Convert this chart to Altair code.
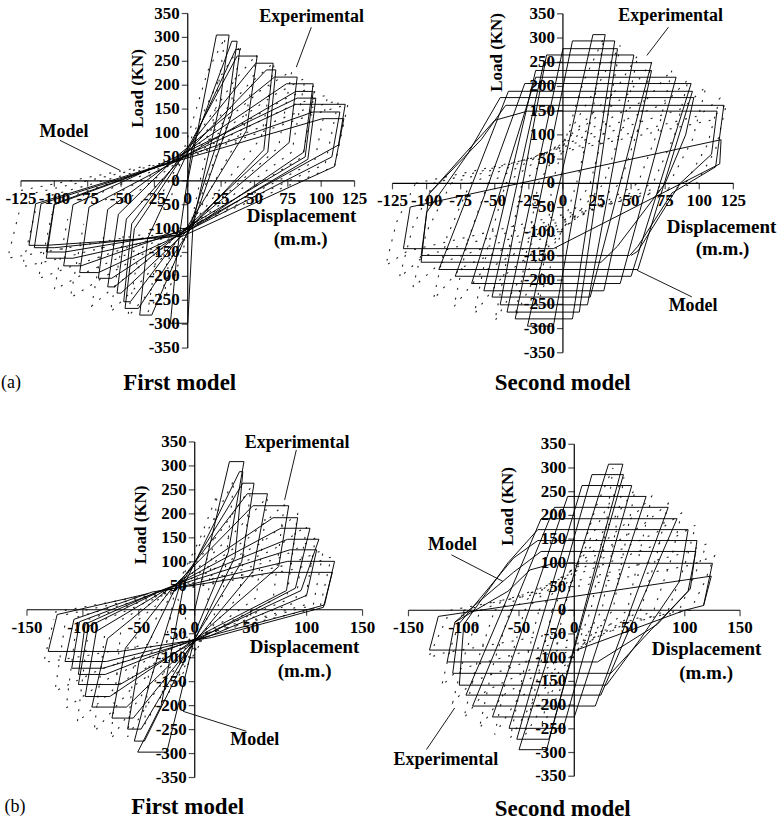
import altair as alt
import pandas as pd

SERIF = "Liberation Serif"

# ---------------------------------------------------------------- axes
TICKS_125 = [-125, -100, -75, -50, -25, 0, 25, 50, 75, 100, 125]
TICKS_150 = [-150, -100, -50, 0, 50, 100, 150]
LOAD_TICKS = [-350, -300, -250, -200, -150, -100, -50, 0, 50, 100, 150, 200, 250, 300, 350]

# ------------------------------------------------ (a) first model (pinched)
# (peak load, plateau start, plateau end) for each positive excursion
A1_TOP = [(305, 21.5, 31), (292, 33, 37), (275, 36, 39), (261, 37, 52), (246, 51, 64),
          (232, 59, 66), (217, 65, 82), (203, 74, 94), (187, 81, 94), (173, 82, 96),
          (160, 81, 118), (144, 94, 114), (130, 101, 117)]
A1_POS_UNLOAD = [(24, 160), (30, 150), (33, 140), (44, 105), (57, 65), (60, 60), (76, 80),
                 (87, 60), (88, 50), (90, 45), (113, 75), (108, 50), (110, 30)]
# (peak load, plateau start, plateau end) for each negative excursion
A1_BOT = [(-298, 0, -13), (-281, -27, -36), (-267, -37, -47), (-253, -43, -48), (-235, -50, -53),
          (-222, -55, -60), (-204, -57, -67), (-192, -67, -81), (-178, -80, -93), (-162, -86, -106),
          (-149, -92, -106), (-140, -100, -115), (-135, -106, -119)]
A1_NEG_UNLOAD = [(-8, -150), (-30, -120), (-40, -100), (-42, -90), (-46, -80), (-52, -70), (-60, -60),
                 (-74, -55), (-86, -50), (-100, -50), (-100, -48), (-110, -48), (-114, -48)]
# crossing points of the reloading branches
A1_PINCH_POS = [(3, 66), (0, 60), (-1, 63), (-4, 56), (-3, 52), (-7, 54), (-8, 48), (-6, 45),
                (-11, 47), (-10, 42), (-13, 40), (-12, 38), (-15, 37)]
A1_PINCH_NEG = [(4, -88), (2, -93), (3, -97), (0, -95), (1, -101), (-1, -99), (-2, -104), (-1, -107),
                (-4, -103), (-3, -110), (-5, -108), (-6, -113), (-4, -116)]
A1_EXP = [
    [(-12, -30), (-5, 45), (15, 230), (28, 300), (20, 140), (2, -95), (-10, -200), (-18, -250), (-12, -120)],
    [(-22, -40), (-5, 45), (25, 220), (40, 285), (30, 120), (2, -95), (-18, -220), (-30, -275), (-22, -130)],
    [(-35, -45), (-5, 45), (35, 210), (52, 265), (42, 110), (2, -95), (-28, -230), (-45, -285), (-35, -120)],
    [(-48, -45), (-5, 45), (45, 200), (65, 248), (55, 90), (2, -95), (-38, -220), (-58, -275), (-48, -110)],
    [(-62, -40), (-5, 45), (55, 190), (78, 230), (68, 70), (2, -95), (-50, -210), (-72, -262), (-62, -100)],
    [(-78, -40), (-5, 45), (65, 180), (88, 215), (78, 60), (2, -95), (-62, -200), (-88, -245), (-78, -90)],
    [(-90, -35), (-5, 45), (72, 170), (96, 200), (86, 50), (2, -95), (-75, -190), (-100, -228), (-90, -80)],
    [(-102, -30), (-5, 45), (80, 160), (105, 180), (95, 40), (2, -95), (-88, -180), (-112, -205), (-102, -70)],
    [(-114, -25), (-5, 45), (88, 150), (113, 168), (103, 35), (2, -95), (-100, -165), (-124, -180), (-114, -60)],
    [(-125, -20), (-5, 45), (95, 140), (120, 160), (110, 30), (2, -95), (-110, -150), (-135, -162), (-125, -50)],
]

# ---------------------------------------------- (a) second model (wide loops)
# (load, left end, right end) of the upper and lower plateaus
A2_TOP = [(307, 22, 31), (294, 7, 38), (278, 0, 40), (265, -12, 52), (249, -14, 65),
          (233, -20, 65), (219, -20, 83), (206, -28, 94), (190, -40, 95)]
A2_BOT = [(-295, -26, -7), (-280, -35, 7), (-266, -41, 12), (-251, -46, 18), (-235, -52, 20),
          (-222, -58, 30), (-207, -67, 42), (-192, -79, 50), (-178, -91, 55)]
A2_LATE = [
    [(-104, -163), (-100, -60), (-70, 60), (-46, 177), (96, 177), (90, 100), (75, 0), (40, -130), (28, -163), (-104, -163)],
    [(-104, -149), (-98, -21), (-60, 90), (-42, 161), (118, 161), (112, 34), (80, -20), (55, -130), (49, -149), (-104, -149)],
    [(-98, -21), (-50, 130), (-26, 149), (113, 149), (109, 60), (86, 0), (55, -140), (50, -149)],
    [(-117, -135), (-112, -49), (116, 90), (115, 40), (-7, -135), (-117, -135)],
]
A2_EXP = [
    [(-8, 0), (15, 210), (30, 300), (22, 150), (10, 0), (-10, -180), (-20, -260), (-12, -130), (-8, 0)],
    [(-18, 0), (25, 200), (42, 285), (33, 140), (20, 0), (-20, -190), (-35, -275), (-26, -130), (-18, 0)],
    [(-30, 0), (38, 190), (55, 265), (45, 130), (30, 0), (-32, -200), (-50, -285), (-40, -140), (-30, 0)],
    [(-42, 0), (48, 185), (65, 250), (56, 120), (42, 0), (-45, -195), (-65, -270), (-55, -130), (-42, 0)],
    [(-55, 0), (62, 175), (80, 235), (70, 110), (55, 0), (-60, -185), (-80, -255), (-70, -120), (-55, 0)],
    [(-68, 0), (75, 165), (92, 215), (82, 100), (66, 0), (-75, -175), (-95, -240), (-85, -110), (-68, 0)],
    [(-82, 0), (88, 155), (105, 200), (95, 90), (78, 0), (-90, -165), (-110, -215), (-100, -100), (-82, 0)],
    [(-95, 0), (100, 140), (115, 175), (106, 80), (90, 0), (-102, -150), (-120, -195), (-110, -90), (-95, 0)],
    [(-108, 0), (108, 130), (120, 165), (112, 70), (98, 0), (-114, -140), (-130, -170), (-122, -80), (-108, 0)],
]

# ------------------------------------------------ (b) first model (pinched)
B1_TOP = [(309, 31, 44), (288, 40, 43), (264, 43, 53), (242, 47, 65), (217, 52, 84), (192, 70, 92),
          (170, 77, 103), (147, 83, 111), (125, 85, 109), (101, 83, 125), (78, 70, 123)]
B1_POS_UNLOAD = [(30, 120), (36, 110), (42, 100), (52, 80), (75, 90), (82, 40), (90, 45), (95, 40),
                 (100, 30), (116, 10), (115, 5)]
B1_BOT = [(-297, -25, -51), (-274, -45, -54), (-249, -48, -60), (-226, -55, -74), (-203, -61, -92),
          (-181, -76, -98), (-156, -67, -104), (-135, -80, -104), (-122, -82, -110), (-108, -79, -116),
          (-87, -67, -131)]
B1_NEG_UNLOAD = [(-30, -200), (-40, -150), (-50, -110), (-62, -80), (-78, -60), (-88, -45), (-95, -35),
                 (-98, -30), (-103, -25), (-108, -20), (-123, -10)]
B1_PINCH_POS = [(-10, 50), (-14, 46), (-17, 47), (-21, 43), (-23, 44), (-27, 40), (-29, 41),
                (-33, 38), (-34, 36), (-38, 37), (-41, 34)]
B1_PINCH_NEG = [(2, -38), (4, -43), (5, -41), (7, -47), (6, -50), (9, -48), (10, -53),
                (11, -51), (12, -56), (14, -54), (15, -58)]
B1_EXP = [
    [(-8, -20), (-18, 40), (5, 150), (20, 240), (12, 30), (10, -50), (-5, -110), (-15, -150), (-10, -40)],
    [(-22, -20), (-18, 40), (15, 180), (35, 270), (25, 30), (10, -50), (-15, -140), (-30, -200), (-24, -40)],
    [(-35, -20), (-18, 40), (25, 170), (50, 255), (40, 30), (10, -50), (-25, -160), (-45, -240), (-38, -40)],
    [(-50, -20), (-18, 40), (35, 160), (65, 235), (55, 25), (10, -50), (-35, -170), (-60, -265), (-52, -40)],
    [(-65, -20), (-18, 40), (48, 150), (80, 220), (70, 20), (10, -50), (-45, -170), (-75, -270), (-66, -40)],
    [(-80, -20), (-18, 40), (60, 140), (92, 200), (82, 20), (10, -50), (-55, -160), (-90, -255), (-80, -40)],
    [(-95, -20), (-18, 40), (70, 125), (100, 175), (90, 15), (10, -50), (-65, -150), (-105, -235), (-95, -40)],
    [(-105, -15), (-18, 40), (78, 110), (108, 150), (98, 10), (10, -50), (-75, -140), (-115, -205), (-106, -35)],
    [(-115, -10), (-18, 40), (85, 95), (115, 125), (106, 10), (10, -50), (-85, -125), (-125, -170), (-116, -30)],
    [(-125, -5), (-18, 40), (90, 85), (122, 110), (112, 5), (10, -50), (-95, -95), (-135, -110), (-126, -20)],
]

# ---------------------------------------------- (b) second model (wide loops)
B2_TOP = [(308, 31, 44), (286, 16, 44.5), (263, 7, 52), (240, -6, 65), (217, -18, 85), (193, -30, 93)]
B2_BOT = [(-294, -50, -25), (-272, -52, -23), (-249, -59, -10), (-225, -74, 0), (-202, -92, 19), (-179, -98, 24)]
B2_LATE = [
    [(-104, -158), (-100, -30), (-60, 100), (-33, 170), (103, 170), (95, 60), (60, -60), (29, -158), (-104, -158)],
    [(-110, -133), (-104, -28), (-55, 110), (-33, 147), (111, 147), (105, 45), (70, -40), (33, -133), (-110, -133)],
    [(-115, -109), (-108, -25), (-55, 80), (-30, 124), (110, 124), (103, 40), (75, -30), (21, -109), (-115, -109)],
    [(-108, -25), (-60, 40), (-40, 85), (-18, 99), (125, 99), (117, 10)],
    [(-131, -84), (-123, -13), (124, 72), (117, 10), (100, 0), (2, -84), (-131, -84)],
]
B2_EXP = [
    [(-10, 0), (20, 220), (35, 300), (28, 160), (15, 0), (-15, -180), (-30, -250), (-20, -130), (-10, 0)],
    [(-20, 0), (28, 210), (45, 280), (36, 150), (25, 0), (-25, -190), (-45, -265), (-32, -130), (-20, 0)],
    [(-32, 0), (38, 200), (55, 255), (46, 140), (35, 0), (-38, -195), (-58, -270), (-46, -130), (-32, 0)],
    [(-45, 0), (50, 190), (70, 240), (60, 130), (48, 0), (-52, -190), (-72, -262), (-60, -125), (-45, 0)],
    [(-58, 0), (62, 180), (85, 225), (75, 120), (60, 0), (-65, -180), (-86, -250), (-74, -120), (-58, 0)],
    [(-72, 0), (75, 165), (97, 205), (88, 110), (72, 0), (-80, -170), (-100, -228), (-88, -110), (-72, 0)],
    [(-85, 0), (88, 150), (110, 180), (100, 95), (85, 0), (-92, -150), (-110, -195), (-100, -100), (-85, 0)],
    [(-100, 0), (98, 120), (120, 140), (110, 80), (95, 0), (-105, -125), (-120, -160), (-112, -80), (-100, 0)],
    [(-112, 0), (105, 95), (127, 115), (118, 60), (105, 0), (-118, -90), (-132, -100), (-124, -60), (-112, 0)],
]


def pinched_cycles(top, pos_unload, bot, neg_unload, pin_pos, pin_neg):
    """One continuous load path through the listed peaks and pinch points."""
    pts = [(0, 0)]
    for (p, xa, xb), c, hn, (n, xd, xe), f, gp in zip(top, pos_unload, pin_neg, bot, neg_unload, pin_pos):
        pts += [(xa, p), (xb, p), c, hn, (xd, n), (xe, n), f, gp]
    return [pts]


def wide_loops(top, bot):
    """Closed loops joining the corners of each upper and lower plateau."""
    return [[(bl, n), (tl, p), (tr, p), (br, n), (bl, n)]
            for (p, tl, tr), (n, bl, br) in zip(top, bot)]


def path_frame(paths):
    rows = []
    for i, pts in enumerate(paths):
        for k, (x, y) in enumerate(pts):
            rows.append({"x": x, "y": y, "loop": i, "k": k})
    return pd.DataFrame(rows)


def note(text, px, py, size, bold=True, angle=0):
    return alt.Chart(pd.DataFrame({"t": [text]})).mark_text(
        font=SERIF, fontSize=size, fontWeight="bold" if bold else "normal",
        angle=angle, align="center", baseline="middle", color="black"
    ).encode(x=alt.value(px), y=alt.value(py), text="t:N")


def leader(x1, y1, x2, y2):
    return alt.Chart(pd.DataFrame({"t": [0]})).mark_rule(color="black", strokeWidth=0.9).encode(
        x=alt.value(x1), y=alt.value(y1), x2=alt.value(x2), y2=alt.value(y2))


def panel(model, exp, xticks, xr, yr, w, h, notes, leaders):
    xs = alt.Scale(domain=[xticks[0], xticks[-1]], range=xr, nice=False, zero=False)
    ys = alt.Scale(domain=[LOAD_TICKS[0], LOAD_TICKS[-1]], range=yr, nice=False, zero=False)

    def X(f):
        return alt.X(f, type="quantitative", scale=xs, axis=None)

    def Y(f):
        return alt.Y(f, type="quantitative", scale=ys, axis=None)

    exp_layer = alt.Chart(path_frame(exp)).mark_line(
        color="#222222", strokeWidth=1.1, strokeDash=[2, 8]
    ).encode(x=X("x"), y=Y("y"), detail="loop:N", order="k:Q")
    model_layer = alt.Chart(path_frame(model)).mark_line(
        color="black", strokeWidth=0.95
    ).encode(x=X("x"), y=Y("y"), detail="loop:N", order="k:Q")

    frame = pd.DataFrame({"x": [xticks[0]], "x1": [xticks[-1]],
                          "y": [LOAD_TICKS[0]], "y1": [LOAD_TICKS[-1]], "o": [0]})
    hline = alt.Chart(frame).mark_rule(color="black", strokeWidth=1.2).encode(
        x=X("x"), x2="x1:Q", y=Y("o"))
    vline = alt.Chart(frame).mark_rule(color="black", strokeWidth=1.2).encode(
        x=X("o"), y=Y("y"), y2="y1:Q")

    xt = pd.DataFrame({"v": xticks, "t": [str(v) for v in xticks], "o": 0})
    yt = pd.DataFrame({"v": LOAD_TICKS, "t": [str(v) for v in LOAD_TICKS], "o": 0})
    xtick = alt.Chart(xt).mark_tick(color="black", thickness=1.2, size=6, orient="vertical",
                                    yOffset=3).encode(x=X("v"), y=Y("o"))
    ytick = alt.Chart(yt).mark_tick(color="black", thickness=1.2, size=6, orient="horizontal",
                                    xOffset=-3).encode(x=X("o"), y=Y("v"))
    xlab = alt.Chart(xt).mark_text(font=SERIF, fontSize=17, fontWeight="bold", dy=18,
                                   baseline="middle", color="black").encode(
        x=X("v"), y=Y("o"), text="t:N")
    ylab = alt.Chart(yt).mark_text(font=SERIF, fontSize=17, fontWeight="bold", dx=-8,
                                   align="right", baseline="middle", color="black").encode(
        x=X("o"), y=Y("v"), text="t:N")

    layers = [exp_layer, model_layer, hline, vline, xtick, ytick, xlab, ylab]
    layers += [note(*n) for n in notes]
    layers += [leader(*l) for l in leaders]
    return alt.layer(*layers).properties(width=w, height=h)


a1 = panel(
    pinched_cycles(A1_TOP, A1_POS_UNLOAD, A1_BOT, A1_NEG_UNLOAD, A1_PINCH_POS, A1_PINCH_NEG),
    A1_EXP, TICKS_125, [21, 355], [348, 13], 375, 400,
    [("Load (KN)", 138, 88, 17, True, 270), ("Displacement", 302, 216, 19),
     ("(m.m.)", 301, 239, 19), ("Experimental", 312, 17, 18), ("Model", 64, 132, 18),
     ("(a)", 11, 383, 18, False), ("First model", 180, 383, 23)],
    [(311.7, 26.7, 296.7, 66.7), (60, 140, 120, 170)],
)

a2 = panel(
    wide_loops(A2_TOP, A2_BOT) + A2_LATE,
    A2_EXP, TICKS_125, [18, 359.3], [352.7, 13.3], 407, 400,
    [("Load (KN)", 122.5, 52, 17, True, 270), ("Displacement", 347.5, 227, 19),
     ("(m.m.)", 348.5, 249, 19), ("Experimental", 296.5, 16, 18), ("Model", 319, 306, 18),
     ("Second model", 188.5, 383, 23)],
    [(294.3, 26.7, 272.7, 55), (262.7, 270, 317.7, 296.7)],
)

b1 = panel(
    pinched_cycles(B1_TOP, B1_POS_UNLOAD, B1_BOT, B1_NEG_UNLOAD, B1_PINCH_POS, B1_PINCH_NEG),
    B1_EXP, TICKS_150, [27, 363], [378, 42], 375, 424,
    [("Load (KN)", 141.5, 125, 17, True, 270), ("Displacement", 305, 247, 19),
     ("(m.m.)", 305, 271, 19), ("Experimental", 297.5, 43.5, 18), ("Model", 255, 340.5, 18),
     ("(b)", 15, 408, 18, False), ("First model", 188, 408, 23)],
    [(296.7, 50, 285, 100), (183.3, 311.7, 246.7, 331.7)],
)

b2 = panel(
    wide_loops(B2_TOP, B2_BOT) + B2_LATE,
    B2_EXP, TICKS_150, [33, 365], [376.7, 44.3], 407, 424,
    [("Load (KN)", 132.5, 106.5, 17, True, 270), ("Displacement", 331.5, 249, 19),
     ("(m.m.)", 331, 273, 19), ("Experimental", 70.5, 360, 18), ("Model", 77, 145.5, 18),
     ("Second model", 187.5, 410, 23)],
    [(76, 155, 127.7, 181.7), (51, 350, 79.3, 308.3)],
)

row_a = alt.hconcat(a1, a2, spacing=0)
row_b = alt.hconcat(b1, b2, spacing=0)
chart = alt.vconcat(row_a, row_b, spacing=0, padding=0,
                    background="white").configure_view(stroke=None)

chart.save("out.html", embed_options={"renderer": "svg", "actions": False})
